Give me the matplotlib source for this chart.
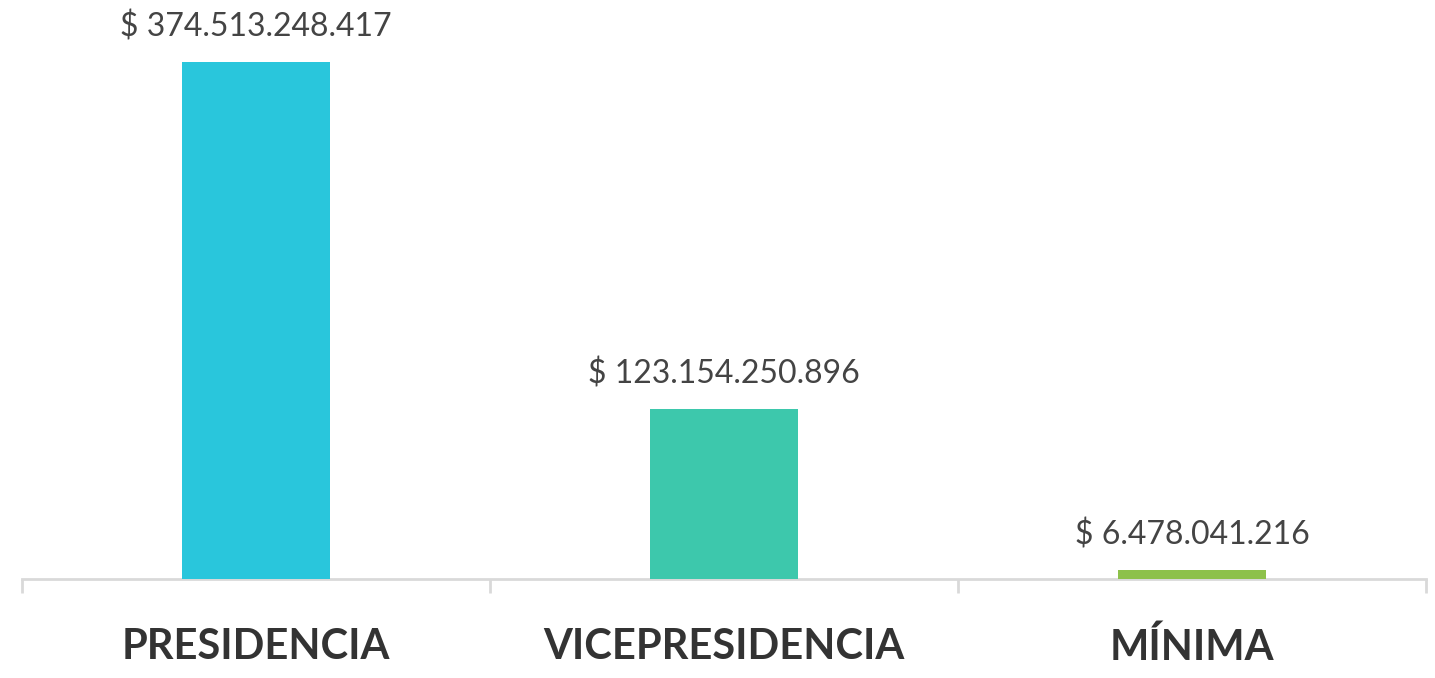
import matplotlib
matplotlib.use("Agg")
import matplotlib.pyplot as plt

categorias = ["PRESIDENCIA", "VICEPRESIDENCIA", "MÍNIMA"]
valores = [374513248417, 123154250896, 6478041216]
etiquetas = ["$ 374.513.248.417", "$ 123.154.250.896", "$ 6.478.041.216"]
colores = ["#29C6DC", "#3DC8AC", "#8DC14A"]

plt.rcParams['font.family'] = ['Lato', 'DejaVu Sans']

fig = plt.figure(figsize=(14.35, 6.78), dpi=100)
ax = fig.add_axes([22 / 1435, 99 / 678, 1404 / 1435, 579 / 678])

x = range(len(categorias))
ax.bar(x, valores, width=0.316, color=colores, zorder=1)

for i, v in enumerate(valores):
    ax.annotate(etiquetas[i], (i, v), xytext=(0, 14), textcoords="offset points",
                ha="center", va="bottom", fontsize=23, color="#444444")

ax.set_xlim(-0.5, 2.5)
ax.set_ylim(0, 374513248417 * 579 / 517)

for s in ["top", "right", "left"]:
    ax.spines[s].set_visible(False)
ax.spines["bottom"].set_color("#d9d9d9")
ax.spines["bottom"].set_linewidth(2)
ax.spines["bottom"].set_zorder(0)
ax.set_yticks([])

ax.set_xticks(list(x))
ax.set_xticklabels(categorias, fontsize=30, fontweight="bold", color="#333333")
ax.tick_params(axis="x", which="major", length=0, pad=35)
ax.set_xticks([-0.5, 0.5, 1.5, 2.5], minor=True)
ax.tick_params(axis="x", which="minor", length=10, width=2, color="#d9d9d9")

fig.savefig("out.png", dpi=100)
